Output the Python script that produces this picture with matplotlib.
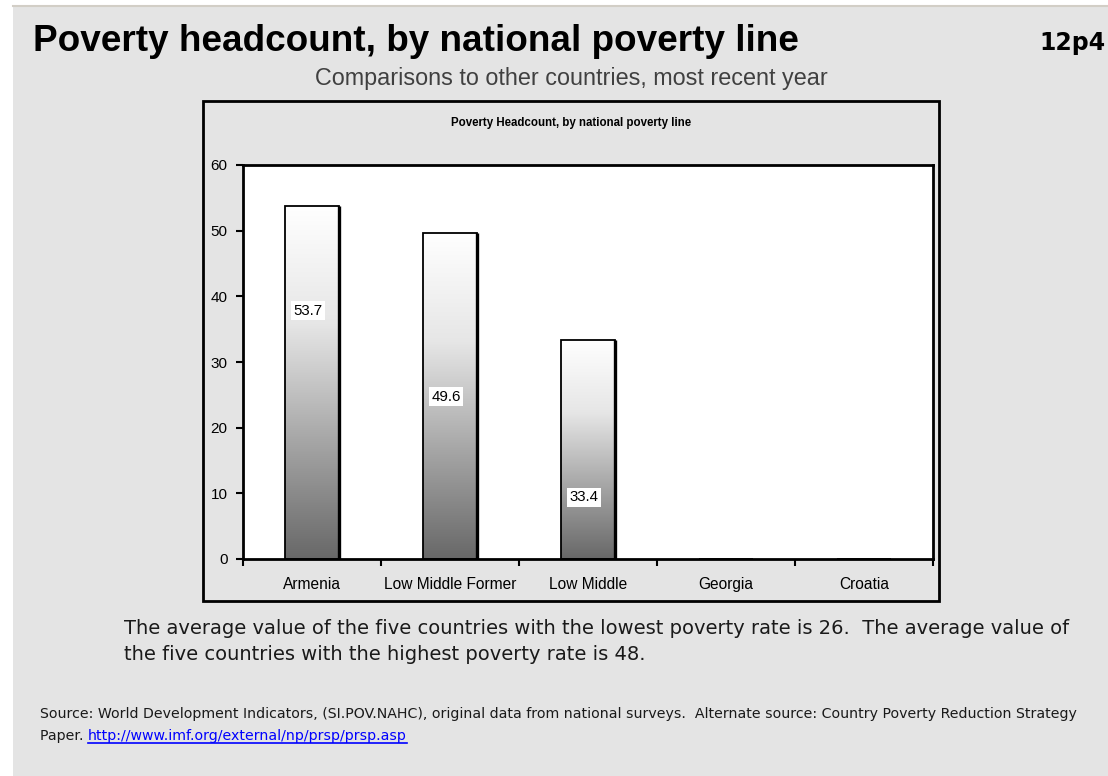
import numpy as np
import matplotlib
matplotlib.use("Agg")
import matplotlib.pyplot as plt
from matplotlib.patches import Rectangle
from matplotlib.lines import Line2D

# Data
categories = ["Armenia", "Low Middle Former", "Low Middle", "Georgia", "Croatia"]
values = [53.7, 49.6, 33.4, 0, 0]
value_labels = ["53.7", "49.6", "33.4", "", ""]
label_heights = [37.8, 24.7, 9.4]
y_ticks = [0, 10, 20, 30, 40, 50, 60]

W, H = 1108, 776
BG = "#e4e4e4"

fig = plt.figure(figsize=(W / 100, H / 100), dpi=100)
fig.patch.set_facecolor(BG)


def fx(px):
    return px / W


def fy(py):
    return 1 - py / H


# white margin strips at the top and left edge
fig.add_artist(Rectangle((0, fy(5.5)), 1, 5.5 / H, transform=fig.transFigure,
                         facecolor="white", edgecolor="none", zorder=0))
fig.add_artist(Rectangle((0, 0), fx(13), 1, transform=fig.transFigure,
                         facecolor="white", edgecolor="none", zorder=0))
fig.add_artist(Line2D([fx(13), 1], [fy(5.5), fy(5.5)], transform=fig.transFigure,
                      color="#d2cec6", lw=1.5, zorder=1))

# headings
fig.text(fx(33), fy(51), "Poverty headcount, by national poverty line",
         fontsize=26.6, fontweight="bold", family="Liberation Sans",
         va="baseline", ha="left")
fig.text(fx(1106), fy(50), "12p4", fontsize=17, fontweight="bold",
         family="DejaVu Sans", va="baseline", ha="right")
fig.text(fx(571), fy(85), "Comparisons to other countries, most recent year",
         fontsize=16.8, family="Liberation Sans",
         color="#404040", va="baseline", ha="center")

# chart frame
fig.add_artist(Rectangle((fx(203), fy(601)), fx(939) - fx(203), fy(101) - fy(601),
                         transform=fig.transFigure, facecolor="none",
                         edgecolor="black", lw=2, zorder=2))
fig.text(fx(571), fy(123), "Poverty Headcount, by national poverty line",
         fontsize=8.3, fontweight="bold", family="Liberation Sans",
         va="center", ha="center")

ax = fig.add_axes([fx(243), fy(559), fx(933) - fx(243), fy(165) - fy(559)])
ax.set_facecolor("white")
for s in ax.spines.values():
    s.set_linewidth(2)
    s.set_color("black")

# bars with vertical white-to-grey gradient
bar_w = 0.39
grad = np.linspace(0.0, 1.0, 256).reshape(-1, 1)
cmap = matplotlib.colors.LinearSegmentedColormap.from_list(
    "barfade", ["#ffffff", "#e6e6e6", "#a6a6a6", "#686868"])
x = np.arange(len(categories))
bars = ax.bar(x, values, width=bar_w, facecolor="none", edgecolor="black",
              linewidth=1.3, zorder=3)
for b, v in zip(bars, values):
    if v <= 0:
        continue
    x0 = b.get_x()
    im = ax.imshow(grad, cmap=cmap, aspect="auto", origin="upper",
                   extent=(x0, x0 + bar_w, 0, v), zorder=2, interpolation="bilinear")
    im.set_clip_path(b)
    # slight shadow along right edge
    ax.plot([x0 + bar_w, x0 + bar_w], [0, v], color="black", lw=2.4,
            solid_capstyle="butt", zorder=4)
ax.set_xlim(-0.5, len(categories) - 0.5)
ax.set_ylim(0, 60)

for xi, lab, hy in zip(x, value_labels, label_heights):
    ax.text(xi - 0.03, hy, lab, ha="center", va="center", fontsize=10.8,
            family="Liberation Sans", zorder=5,
            bbox=dict(facecolor="white", edgecolor="none", pad=1.8))

ax.set_yticks(y_ticks)
ax.set_yticklabels([str(t) for t in y_ticks], family="Liberation Sans", fontsize=11)
ax.set_xticks(np.arange(-0.5, len(categories), 1.0))
ax.set_xticklabels([])
ax.set_xticks(x, minor=True)
ax.set_xticklabels(categories, minor=True, family="Liberation Sans", fontsize=11.2)
ax.tick_params(axis="x", which="minor", length=0, pad=13)
ax.tick_params(axis="x", which="major", direction="out", length=5, width=1.5)
ax.tick_params(axis="y", direction="out", length=5, width=1.5, pad=6)

# notes below the chart
note_font = ["DejaVu Sans"]
fig.text(fx(124), fy(634),
         "The average value of the five countries with the lowest poverty rate is 26.  The average value of",
         fontsize=14.05, family=note_font, va="baseline", ha="left", color="#1a1a1a")
fig.text(fx(124), fy(660),
         "the five countries with the highest poverty rate is 48.",
         fontsize=14.05, family=note_font, va="baseline", ha="left", color="#1a1a1a")

src_font = ["DejaVu Sans"]
src_size = 10.2
fig.text(fx(40), fy(718),
         "Source: World Development Indicators, (SI.POV.NAHC), original data from national surveys.  "
         "Alternate source: Country Poverty Reduction Strategy",
         fontsize=src_size, family=src_font, va="baseline", ha="left", color="#1a1a1a")
t1 = fig.text(fx(40), fy(740), "Paper. ", fontsize=src_size, family=src_font,
              va="baseline", ha="left", color="#1a1a1a")
fig.canvas.draw()
bb = t1.get_window_extent()
link = fig.text(bb.x1 / W, fy(740), "http://www.imf.org/external/np/prsp/prsp.asp",
                fontsize=src_size, family=src_font, va="baseline", ha="left", color="#0000ff")
fig.canvas.draw()
lb = link.get_window_extent()
fig.add_artist(Line2D([lb.x0 / W, lb.x1 / W], [fy(743), fy(743)],
                      transform=fig.transFigure, color="#0000ff", lw=1.2))

fig.savefig("out.png", dpi=100, facecolor=fig.get_facecolor())
